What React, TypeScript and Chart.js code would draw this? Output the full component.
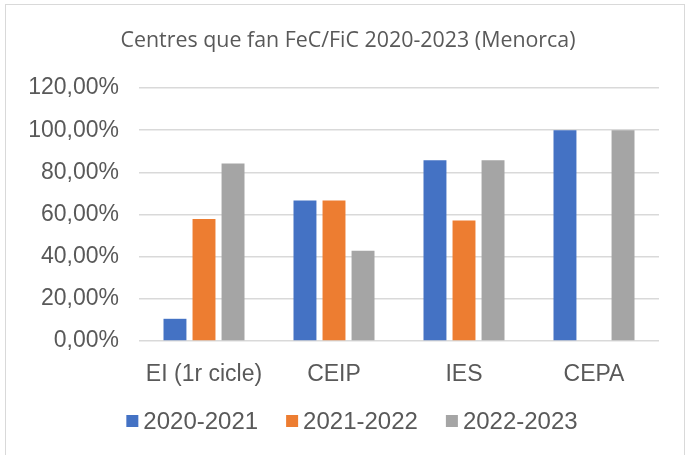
import React, { useEffect, useRef } from "react";
import { Chart, registerables } from "chart.js";

Chart.register(...registerables);

const TITLE = "Centres que fan FeC/FiC 2020-2023 (Menorca)";
const categories = ["EI (1r cicle)", "CEIP", "IES", "CEPA"];
const seriesNames = ["2020-2021", "2021-2022", "2022-2023"];
const s2020 = [10.53, 66.67, 85.71, 100];
const s2021 = [57.89, 66.67, 57.14, 0];
const s2022 = [84.21, 42.86, 85.71, 100];
const colors = ["#4472C4", "#ED7D31", "#A5A5A5"];
const yTicksMax = 120;
const yTicksStep = 20;

const TEXT = "#595959";
const FONT = "'Liberation Sans', Arial, sans-serif";

const titleLegendPlugin = {
  id: "titleLegend",
  afterDraw(chart: any) {
    const ctx = chart.ctx;
    ctx.save();
    // Title
    ctx.fillStyle = TEXT;
    ctx.font = "21.4px 'Open Sans', sans-serif";
    ctx.textAlign = "center";
    ctx.textBaseline = "middle";
    ctx.fillText(TITLE, 348, 41);
    // Legend
    ctx.font = "24px " + FONT;
    ctx.textAlign = "left";
    const box = 12;
    const gapBoxText = 5;
    const gapItems = 28;
    const ds = chart.data.datasets;
    const widths = ds.map((d: any) => box + gapBoxText + ctx.measureText(d.label).width);
    const total = widths.reduce((a: number, b: number) => a + b, 0) + gapItems * (ds.length - 1);
    let x = 352 - total / 2;
    const yc = 421;
    ds.forEach((d: any, i: number) => {
      ctx.fillStyle = d.backgroundColor;
      ctx.fillRect(x, yc - box / 2, box, box);
      ctx.fillStyle = TEXT;
      ctx.fillText(d.label, x + box + gapBoxText, yc + 1);
      x += widths[i] + gapItems;
    });
    ctx.restore();
  },
};

export default function App() {
  const ref = useRef<HTMLCanvasElement | null>(null);
  useEffect(() => {
    document.body.style.margin = "0";
    const canvas = ref.current!;
    const seriesData = [s2020, s2021, s2022];
    const chart = new Chart(canvas, {
      type: "bar",
      data: {
        labels: categories,
        datasets: seriesNames.map((name, i) => ({
          label: name,
          data: seriesData[i],
          backgroundColor: colors[i],
          borderWidth: 0,
          categoryPercentage: 0.67,
          barPercentage: 0.79,
        })),
      },
      options: {
        responsive: false,
        animation: false,
        devicePixelRatio: 1,
        layout: { padding: { top: 88, bottom: 60, left: 0, right: 30 } },
        plugins: {
          legend: { display: false },
          title: { display: false },
          tooltip: { enabled: false },
        },
        scales: {
          x: {
            grid: { display: false },
            border: { display: false },
            ticks: {
              color: TEXT,
              font: { family: FONT, size: 23 },
              padding: 12,
              maxRotation: 0,
            },
            afterFit: (s: any) => {
              s.height = 54;
            },
          },
          y: {
            min: 0,
            max: yTicksMax,
            border: { display: false },
            grid: { color: "#d9d9d9", lineWidth: 1.5, drawTicks: false },
            ticks: {
              stepSize: yTicksStep,
              color: TEXT,
              font: { family: FONT, size: 23 },
              padding: 20,
              callback: (v: any) => Number(v).toFixed(2).replace(".", ",") + "%",
            },
            afterFit: (s: any) => {
              s.width = 139;
            },
          },
        },
      },
      plugins: [titleLegendPlugin],
    });
    return () => chart.destroy();
  }, []);
  return (
    <div style={{ position: "relative", width: 689, height: 455, overflow: "hidden", background: "#fff" }}>
      <div
        style={{
          position: "absolute",
          left: 5,
          top: 4,
          width: 680,
          height: 470,
          border: "1.5px solid #d9d9d9",
          boxSizing: "border-box",
        }}
      />
      <canvas ref={ref} width={689} height={455} style={{ position: "absolute", left: 0, top: 0, width: 689, height: 455, display: "block" }} />
    </div>
  );
}
